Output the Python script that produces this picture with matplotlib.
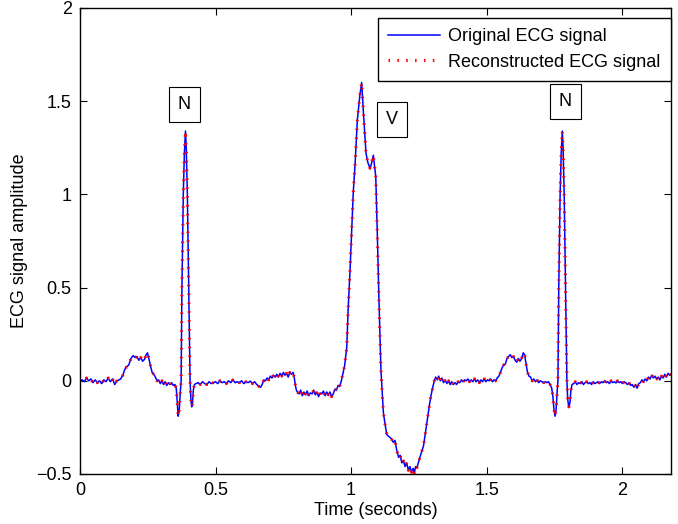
import numpy as np
import matplotlib
matplotlib.use("Agg")
import matplotlib.pyplot as plt

plt.rcParams['font.family'] = ['Liberation Sans', 'DejaVu Sans']

# time (s) and amplitude, segment by segment
t_lead = [0, .008, .016, .024, .032, .040, .048, .056, .064, .072, .080, .088, .096,
          .104, .112, .120, .128, .136, .144]
y_lead = [0.0, 0.005, -0.005, 0.015, 0.0, 0.01, -0.01, 0.005, -0.01, 0.0, -0.015, 0.005,
          -0.005, 0.015, -0.005, 0.01, -0.02, 0.0, 0.005]

t_p1 = [.150, .158, .165, .172, .180, .188, .196, .203, .210, .217, .224, .231, .238, .244,
        .249, .254, .260, .266, .272, .278, .284, .290]
y_p1 = [0.01, 0.03, 0.06, 0.075, 0.085, 0.12, 0.135, 0.125, 0.13, 0.11, 0.125, 0.105, 0.115,
        0.14, 0.15, 0.12, 0.08, 0.045, 0.035, 0.02, 0.0, 0.005]

t_qrs1 = [.296, .302, .308, .314, .320, .326, .332, .338, .344, .350, .355, .359, .362, .366,
          .370, .373, .376, .381, .385, .389, .392, .396, .401, .406, .409, .412, .415, .418,
          .422]
y_qrs1 = [-0.015, 0.0, -0.02, -0.005, -0.025, -0.01, -0.02, -0.01, -0.025, -0.02, -0.04, -0.12,
          -0.19, -0.16, -0.06, 0.0, 0.5, 1.0, 1.22, 1.34, 1.25, 1.0, 0.5, 0.0, -0.1, -0.14,
          -0.12, -0.05, -0.02]

t_mid1 = [.428, .436, .444, .452, .460, .468, .476, .484, .492, .500, .508, .516, .524, .532,
          .540, .548, .556, .564, .572, .580, .588, .596, .604, .612, .620, .628, .636, .644,
          .652, .660, .666, .672, .678, .684, .690, .696, .702, .708, .714, .720, .726, .732,
          .738, .744, .750, .756, .762, .768, .774, .780, .786, .790, .794, .798, .802]
y_mid1 = [-0.015, -0.01, -0.02, -0.005, -0.015, -0.02, -0.005, -0.015, -0.01, -0.005, -0.015,
          0.0, -0.01, -0.005, -0.015, 0.0, -0.01, 0.005, -0.01, -0.005, -0.01, 0.0, -0.015,
          -0.005, -0.01, -0.002, -0.015, -0.005, -0.02, -0.03, -0.035, -0.02, 0.005, 0.0,
          0.015, 0.005, 0.025, 0.015, 0.03, 0.02, 0.035, 0.02, 0.04, 0.025, 0.045, 0.03, 0.04,
          0.02, 0.045, 0.035, 0.045, 0.02, -0.02, -0.05, -0.06]

t_pre_v = [.808, .814, .820, .826, .832, .838, .844, .850, .856, .862, .868, .874, .880, .886,
           .892, .898, .904, .910, .916, .922, .928, .934, .940, .946, .952, .958, .964, .970,
           .976, .980]
y_pre_v = [-0.07, -0.05, -0.08, -0.06, -0.075, -0.055, -0.08, -0.065, -0.07, -0.05, -0.075,
           -0.06, -0.085, -0.065, -0.07, -0.055, -0.08, -0.06, -0.075, -0.06, -0.085, -0.07,
           -0.045, -0.05, -0.025, -0.03, 0.0, 0.04, 0.08, 0.13]

t_v = [.984, .989, .996, 1.003, 1.008, 1.015, 1.023, 1.033, 1.039, 1.045, 1.055, 1.062, 1.070,
       1.076, 1.082, 1.091, 1.097, 1.103, 1.110, 1.119, 1.126, 1.132, 1.140, 1.148, 1.156,
       1.162, 1.168, 1.175, 1.181, 1.187, 1.193, 1.199, 1.205, 1.211, 1.217, 1.223, 1.229,
       1.233, 1.238, 1.243, 1.248, 1.256, 1.267, 1.279, 1.290, 1.296, 1.302]
y_v = [0.18, 0.38, 0.59, 0.83, 1.01, 1.17, 1.40, 1.54, 1.60, 1.45, 1.22, 1.17, 1.14, 1.17,
       1.21, 1.095, 0.77, 0.42, 0.06, -0.17, -0.24, -0.29, -0.30, -0.31, -0.33, -0.32, -0.37,
       -0.41, -0.40, -0.44, -0.43, -0.46, -0.44, -0.48, -0.46, -0.49, -0.47, -0.495, -0.46,
       -0.465, -0.44, -0.40, -0.35, -0.23, -0.12, -0.07, -0.03]

t_mid2 = [1.307, 1.312, 1.318, 1.323, 1.329, 1.335, 1.341, 1.347, 1.353, 1.359, 1.365, 1.371,
          1.377, 1.383, 1.389, 1.395, 1.401, 1.407, 1.413, 1.419, 1.425, 1.431, 1.437, 1.443,
          1.449, 1.455, 1.461, 1.467, 1.473, 1.479, 1.485, 1.491, 1.497, 1.503, 1.509, 1.515,
          1.521, 1.527, 1.533, 1.539]
y_mid2 = [0.0, 0.02, 0.005, 0.025, 0.0, 0.015, -0.01, 0.005, -0.015, 0.0, -0.02, -0.005, -0.02,
          -0.01, -0.02, -0.005, -0.01, 0.005, -0.005, 0.005, 0.0, 0.01, -0.005, 0.005, -0.005,
          0.01, -0.005, 0.005, -0.01, 0.005, -0.005, 0.01, -0.005, 0.005, 0.0, 0.01, -0.005,
          0.005, 0.0, 0.015]

t_p2 = [1.545, 1.551, 1.557, 1.563, 1.569, 1.575, 1.581, 1.587, 1.593, 1.599, 1.605, 1.611,
        1.617, 1.623, 1.629, 1.635, 1.640, 1.645, 1.650, 1.656, 1.662, 1.668, 1.674, 1.680,
        1.686, 1.692, 1.698, 1.704, 1.710, 1.716, 1.722, 1.728, 1.734, 1.740]
y_p2 = [0.025, 0.045, 0.07, 0.085, 0.09, 0.12, 0.13, 0.14, 0.125, 0.13, 0.11, 0.1, 0.12, 0.105,
        0.12, 0.15, 0.14, 0.095, 0.05, 0.025, 0.02, 0.0, 0.01, -0.005, 0.005, -0.01, 0.0,
        -0.005, -0.01, -0.005, -0.01, -0.005, -0.02, -0.04]

t_qrs2 = [1.744, 1.748, 1.752, 1.756, 1.760, 1.763, 1.766, 1.771, 1.775, 1.779, 1.782, 1.786,
          1.791, 1.796, 1.799, 1.803, 1.807, 1.811, 1.815]
y_qrs2 = [-0.08, -0.15, -0.19, -0.16, -0.06, 0.0, 0.5, 1.0, 1.22, 1.34, 1.25, 1.0, 0.5, 0.0,
          -0.1, -0.14, -0.12, -0.05, -0.02]

t_tail = [1.821, 1.827, 1.833, 1.839, 1.845, 1.851, 1.857, 1.863, 1.869, 1.875, 1.881, 1.887,
          1.893, 1.899, 1.905, 1.911, 1.917, 1.923, 1.929, 1.935, 1.941, 1.947, 1.953, 1.959,
          1.965, 1.971, 1.977, 1.983, 1.989, 1.995, 2.001, 2.007, 2.013, 2.019, 2.025, 2.031,
          2.037, 2.043, 2.049, 2.055, 2.061, 2.067, 2.073, 2.079, 2.085, 2.091, 2.097, 2.103,
          2.109, 2.115, 2.121, 2.127, 2.133, 2.139, 2.145, 2.151, 2.157, 2.163, 2.169, 2.175,
          2.181]
y_tail = [-0.015, -0.005, -0.02, -0.01, -0.015, -0.005, -0.02, -0.01, -0.005, -0.015, -0.01,
          -0.02, -0.005, -0.015, -0.01, -0.005, -0.015, -0.005, -0.01, 0.0, -0.01, -0.005,
          -0.015, 0.0, -0.01, -0.005, -0.012, 0.0, -0.01, -0.005, -0.015, -0.005, -0.01, -0.02,
          -0.01, -0.025, -0.02, -0.035, -0.02, -0.04, -0.015, -0.01, 0.005, -0.005, 0.01, 0.0,
          0.02, 0.01, 0.03, 0.015, 0.025, 0.01, 0.02, 0.005, 0.025, 0.015, 0.035, 0.02, 0.04,
          0.03, 0.035]

beat_labels = ['N', 'V', 'N']
beat_t = [0.385, 1.151, 1.79]
beat_y = [1.48, 1.40, 1.50]

t = np.array(t_lead + t_p1 + t_qrs1 + t_mid1 + t_pre_v + t_v + t_mid2 + t_p2 + t_qrs2 + t_tail)
ecg = np.array(y_lead + y_p1 + y_qrs1 + y_mid1 + y_pre_v + y_v + y_mid2 + y_p2 + y_qrs2 + y_tail)
recon = ecg.copy()

fig = plt.figure(figsize=(6.78, 5.24), dpi=100)
ax = fig.add_axes([80/678, 50/524, 591/678, 466/524])

ax.plot(t, ecg, color='b', lw=1.1, label='Original ECG signal')
ax.plot(t, recon, color='r', lw=2.2, linestyle=(0, (0.5, 2.4)),
        label='Reconstructed ECG signal')

for lab, bx, by in zip(beat_labels, beat_t, beat_y):
    ax.text(bx, by, lab, fontsize=13, ha='center', va='center',
            bbox=dict(boxstyle='square,pad=0.5', fc='white', ec='black', lw=0.8))

ax.set_xlim(0, 2.18)
ax.set_ylim(-0.5, 2)
ax.set_xticks([0, 0.5, 1, 1.5, 2])
ax.set_yticks([-0.5, 0, 0.5, 1, 1.5, 2])
ax.set_xticklabels(['0', '0.5', '1', '1.5', '2'])
ax.set_yticklabels(['\u22120.5', '0', '0.5', '1', '1.5', '2'])
ax.tick_params(direction='in', length=5, top=True, right=True, labelsize=13, pad=6)
for s in ax.spines.values():
    s.set_linewidth(1.0)
ax.set_xlabel('Time (seconds)', fontsize=13, labelpad=2)
ax.set_ylabel('ECG signal amplitude', fontsize=13, labelpad=6)

leg = ax.legend(loc='upper right', bbox_to_anchor=(1.0, 0.9785), borderaxespad=0,
                fontsize=13, fancybox=False, framealpha=1, edgecolor='black',
                handlelength=2.9, handletextpad=0.45, labelspacing=0.47, borderpad=0.57)
leg.get_frame().set_linewidth(1.0)

fig.savefig('out.png', dpi=100)
